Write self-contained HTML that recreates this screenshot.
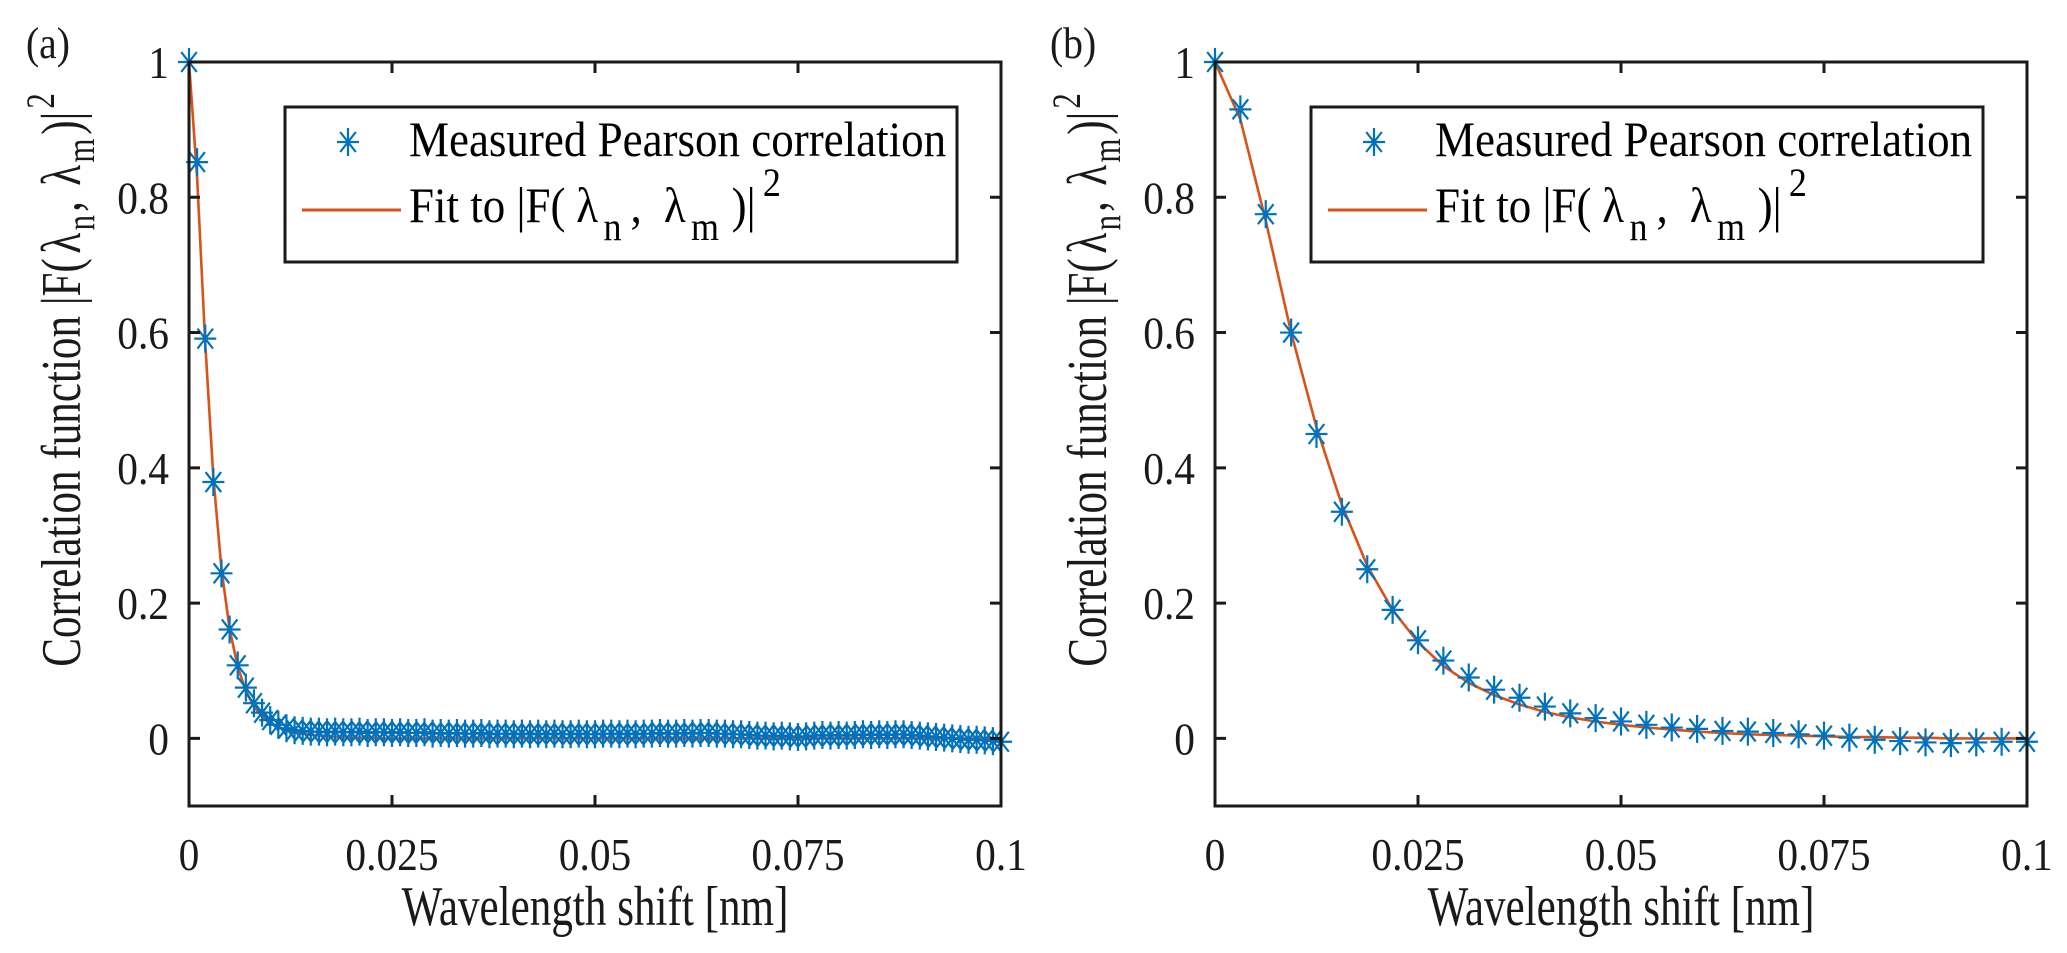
<!DOCTYPE html>
<html><head><meta charset="utf-8"><style>
html,body{margin:0;padding:0;background:#fff;}
svg{display:block;}
svg text{font-family:"Liberation Serif","Times New Roman","DejaVu Serif",serif;}
</style></head><body>
<svg id="fig" width="2067" height="953" viewBox="0 0 2067 953" xmlns="http://www.w3.org/2000/svg" font-family="Liberation Serif, Times New Roman, serif"></svg>
<script>
// ---------- data ----------
const xTicks = [0, 0.025, 0.05, 0.075, 0.1];
const xTickLabels = ["0", "0.025", "0.05", "0.075", "0.1"];
const yTicks = [0, 0.2, 0.4, 0.6, 0.8, 1];
const yTickLabels = ["0", "0.2", "0.4", "0.6", "0.8", "1"];

// panel (a): step 0.001 nm, 101 points
const aStep = 0.001;
const aMeasured = [1.0,0.852,0.591,0.379,0.244,0.161,0.108,0.075,0.052,0.038,
0.027,0.020,0.015,0.012,0.011,0.010,0.010,0.009,0.010,0.009,
0.009,0.010,0.008,0.009,0.009,0.008,0.009,0.008,0.008,0.009,
0.007,0.008,0.007,0.008,0.007,0.007,0.008,0.006,0.007,0.007,
0.006,0.007,0.006,0.007,0.006,0.007,0.006,0.006,0.007,0.006,
0.006,0.007,0.007,0.006,0.007,0.006,0.007,0.007,0.008,0.007,
0.007,0.008,0.007,0.008,0.008,0.007,0.007,0.006,0.006,0.005,
0.004,0.004,0.003,0.004,0.003,0.002,0.003,0.004,0.005,0.004,
0.005,0.004,0.005,0.006,0.005,0.006,0.005,0.006,0.006,0.005,
0.004,0.003,0.002,0.001,0.000,-0.001,-0.002,-0.002,-0.003,-0.004,-0.005];
const aFit = [1.0,0.83,0.585,0.385,0.25,0.162,0.106,0.07,0.047,0.032,
0.022,0.016,0.012,0.009,0.007,0.005,0.004,0.003,0.002,0.002,
0.001,0.001,0.001,0.001,0,0,0,0,0,0,
0,0,0,0,0,0,0,0,0,0,0,0,0,0,0,0,0,0,0,0,
0,0,0,0,0,0,0,0,0,0,0,0,0,0,0,0,0,0,0,0,
0,0,0,0,0,0,0,0,0,0,0,0,0,0,0,0,0,0,0,0,
0,0,0,0,0,0,0,0,0,0,0];

// panel (b): step 0.003125 nm, 33 points
const bStep = 0.003125;
const bMeasured = [1.0,0.93,0.775,0.60,0.45,0.335,0.25,0.19,0.145,0.115,
0.09,0.072,0.06,0.047,0.037,0.03,0.025,0.02,0.016,0.014,
0.011,0.01,0.008,0.006,0.004,0.001,-0.002,-0.004,-0.006,-0.007,
-0.006,-0.005,-0.005];
const bFit = [1.0,0.915,0.765,0.60,0.46,0.345,0.255,0.19,0.142,0.107,
0.082,0.064,0.05,0.039,0.031,0.025,0.02,0.016,0.013,0.01,
0.008,0.006,0.005,0.004,0.003,0.002,0.002,0.001,0.001,0,0,0,0];

// ---------- drawing ----------
const NS = "http://www.w3.org/2000/svg";
const svg = document.getElementById('fig');
const BLUE = "#0072BD", ORANGE = "#D95319";
const FONT = "Liberation Serif, Times New Roman, DejaVu Serif, serif";
function mk(tag, attrs, parent){
  const e = document.createElementNS(NS, tag);
  for (const k in attrs) e.setAttribute(k, attrs[k]);
  (parent||svg).appendChild(e);
  return e;
}
function txt(parent, x, y, size, sx, anchor, rot){
  const g = mk('g', {transform:`translate(${x},${y})` + (rot?` rotate(${rot})`:'') + ` scale(${sx},1)`}, parent);
  return mk('text', {x:0, y:0, 'font-size':size, 'text-anchor':anchor, 'font-family':FONT, fill:'#1a1a1a'}, g);
}
function star(parent, cx, cy){
  const rx = 11, ry = 14, dx = 7.8, dy = 10;
  return mk('path', {d:`M${cx-rx},${cy}H${cx+rx}M${cx},${cy-ry}V${cy+ry}M${cx-dx},${cy-dy}L${cx+dx},${cy+dy}M${cx-dx},${cy+dy}L${cx+dx},${cy-dy}`}, parent);
}

function panel(opt){
  const L = opt.left, R = opt.left + 812, T = 62, B = 806;
  const xs = v => L + (v - 0) / 0.1 * (R - L);
  const ys = v => B - (v + 0.1) / 1.1 * (B - T);
  const g = mk('g', {});
  
  

  const lt = txt(g, opt.letterX, 58, 44, 0.9, 'start');
  lt.textContent = opt.letter;
  
  

  const fitPts = opt.fit.map((v,i)=> xs(i*opt.step).toFixed(1)+','+ys(v).toFixed(1)).join(' ');
  const fl = mk('polyline', {points: fitPts, fill:'none', stroke: ORANGE, 'stroke-width': 2.6, 'stroke-linejoin':'round'}, g);
  
  

  const mg = mk('g', {stroke: BLUE, 'stroke-width': 2.2, fill:'none'}, g);
  
  
  opt.meas.forEach((v,i)=>{
    const p = star(mg, xs(i*opt.step), ys(v));
    
    
  });

  const box = mk('rect', {x:L, y:T, width:R-L, height:B-T, fill:'none', stroke:'#1a1a1a', 'stroke-width':3}, g);
  
  

  xTicks.forEach((v,i)=>{
    const x = xs(v);
    const t = mk('path', {d:`M${x},${B}V${B-11}M${x},${T}V${T+11}`, stroke:'#1a1a1a','stroke-width':3}, g);
    
    
    const tl = txt(g, x, 870, 46, 0.9, 'middle');
    tl.textContent = xTickLabels[i];
    
    
  });
  yTicks.forEach((v,i)=>{
    const y = ys(v);
    const t = mk('path', {d:`M${L},${y}H${L+11}M${R},${y}H${R-11}`, stroke:'#1a1a1a','stroke-width':3}, g);
    
    
    const tl = txt(g, L-20, y+16, 46, 0.9, 'end');
    tl.textContent = yTickLabels[i];
    
    
  });

  const xt = txt(g, (L+R)/2, 925, 56, 0.77, 'middle');
  xt.textContent = 'Wavelength shift [nm]';
  
  

  const yt = txt(g, L-109, 380, 56, 0.77, 'middle', -90);
  yt.innerHTML = 'Correlation function |F(<tspan dx="6">λ</tspan><tspan font-size="40" dy="14" dx="3">n</tspan><tspan dy="-14" dx="4">, </tspan><tspan dx="6">λ</tspan><tspan font-size="40" dy="14" dx="3">m</tspan><tspan dy="-14" dx="5">)|</tspan><tspan font-size="40" dy="-26" dx="4">2</tspan>';
  
  

  const lx = L + 96, ly = 107;
  const lg = mk('g', {}, g);
  
  
  mk('rect', {x:lx, y:ly, width:672, height:155, fill:'#fff', stroke:'#1a1a1a', 'stroke-width':3}, lg);
  const lm = star(lg, lx+63, 142);
  lm.setAttribute('stroke', BLUE);
  lm.setAttribute('stroke-width', 2.2);
  
  
  const t1 = txt(lg, lx+124, 156, 50, 0.9, 'start');
  t1.setAttribute('fill', '#000');
  t1.textContent = 'Measured Pearson correlation';
  
  
  const ll = mk('path', {d:`M${lx+17},${210}H${lx+116}`, stroke:ORANGE, 'stroke-width':3}, lg);
  
  
  const t2 = txt(lg, lx+124, 222, 50, 0.9, 'start');
  t2.setAttribute('fill', '#000');
  t2.innerHTML = 'Fit to |F(<tspan dx="12">λ</tspan><tspan font-size="40" dy="18" dx="6">n</tspan><tspan dy="-18" dx="10">, </tspan><tspan dx="12">λ</tspan><tspan font-size="40" dy="18" dx="6">m</tspan><tspan dy="-18" dx="14">)|</tspan><tspan font-size="40" dy="-26" dx="8">2</tspan>';
  
  
}

panel({name:'panel-a', left:189, letter:'(a)', letterX:26, step:aStep, meas:aMeasured, fit:aFit});
panel({name:'panel-b', left:1215, letter:'(b)', letterX:1050, step:bStep, meas:bMeasured, fit:bFit});
</script>
</body></html>
